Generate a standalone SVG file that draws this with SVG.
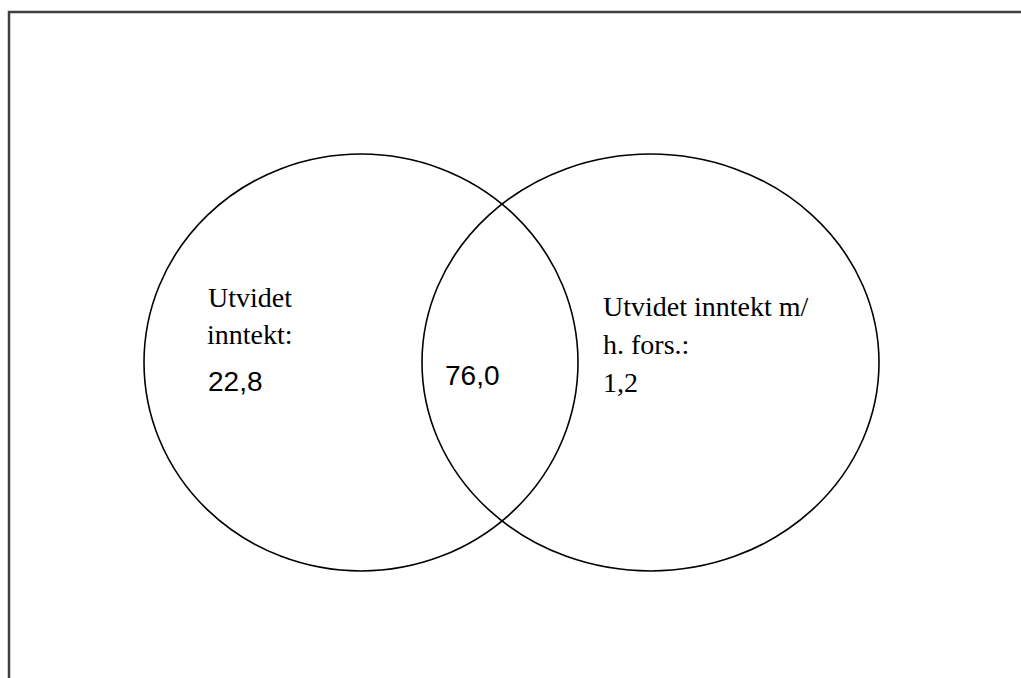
<svg xmlns="http://www.w3.org/2000/svg" width="1021" height="678" viewBox="0 0 1021 678">
  <style>
    .ring { fill: none; stroke: #000; stroke-width: 1.6; }
    .serif { font-family: "Liberation Serif", "Times New Roman", serif; font-size: 28px; fill: #000; }
    .sans { font-family: "Liberation Sans", Arial, sans-serif; font-size: 28px; fill: #000; }
  </style>
  <rect width="1021" height="678" fill="#fff"/>
  <g id="frame">
    <rect x="9" y="12" width="1040" height="700" fill="none" stroke="#404040" stroke-width="2.5"/>
  </g>
  <g id="set-left">
    <ellipse class="ring" cx="361" cy="362.5" rx="217" ry="208.5"/>
    <text class="serif" x="208" y="307">Utvidet</text>
    <text class="serif" x="207" y="344">inntekt:</text>
    <text class="sans" x="208" y="391">22,8</text>
  </g>
  <g id="set-right">
    <ellipse class="ring" cx="650.5" cy="362.5" rx="228.5" ry="208.5"/>
    <text class="serif" x="603" y="316">Utvidet inntekt m/</text>
    <text class="serif" x="603" y="354">h. fors.:</text>
    <text class="serif" x="603" y="392">1,2</text>
  </g>
  <g id="intersection">
    <text class="sans" x="445" y="385">76,0</text>
  </g>
</svg>
